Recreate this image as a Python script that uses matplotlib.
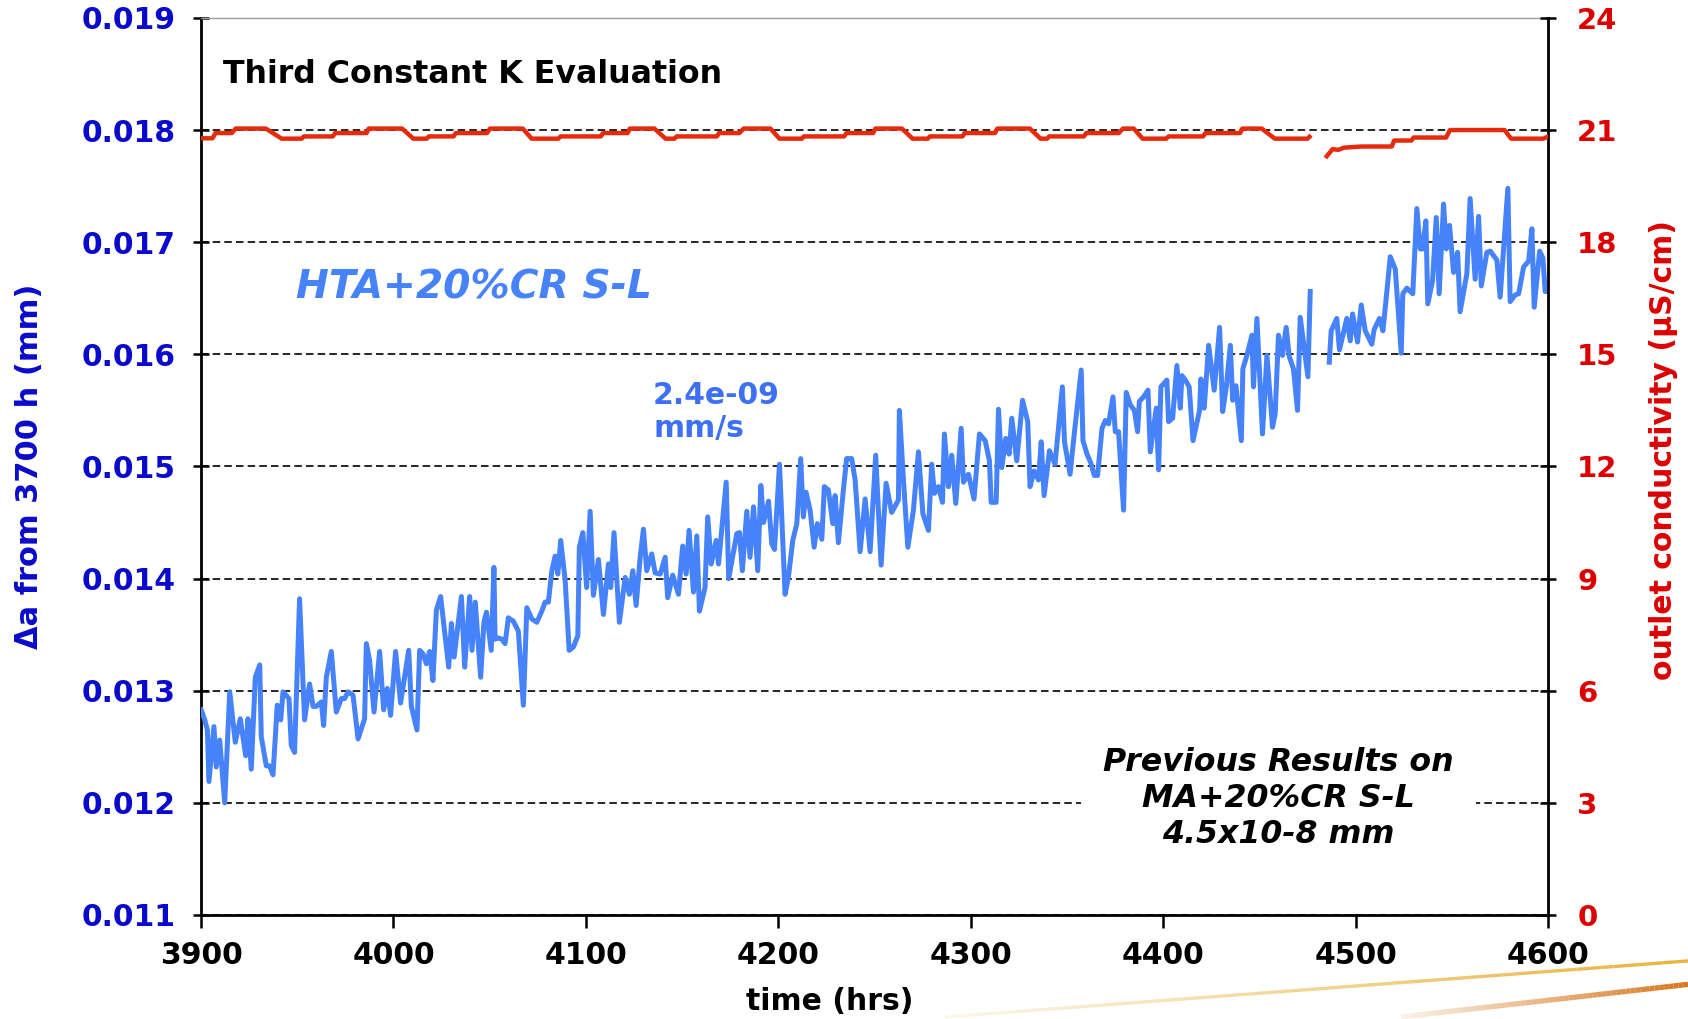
import numpy as np
import matplotlib.pyplot as plt
from matplotlib.collections import LineCollection
from matplotlib.colors import to_rgb

plt.rcParams["font.family"] = ["DejaVu Sans"]
plt.rcParams["font.weight"] = "bold"

# crack extension since 3700 h, time in hrs; nan marks the break in logging
time_hrs = [
    3900.1, 3901.9, 3903.3, 3904.1, 3906.7, 3907.9, 3909.7, 3912.3, 3914.9, 3917.8,
    3920.4, 3923.2, 3924.4, 3926.1, 3928.2, 3930.5, 3931.3, 3933.9, 3935.6, 3937.4,
    3939.6, 3941.4, 3942.6, 3945.7, 3946.9, 3948.6, 3951.2, 3953.8, 3956.4, 3958.2,
    3959.9, 3962.5, 3963.7, 3965.1, 3967.7, 3970.3, 3972.9, 3974.6, 3976.4, 3979.0,
    3981.6, 3985.0, 3985.9, 3987.6, 3989.9, 3992.8, 3994.9, 3996.8, 3998.5, 4001.1,
    4003.7, 4007.9, 4009.3, 4012.2, 4013.6, 4015.3, 4017.1, 4018.8, 4020.5, 4022.3,
    4024.5, 4028.7, 4030.1, 4031.5, 4035.3, 4037.0, 4039.6, 4040.8, 4042.5, 4045.3,
    4047.0, 4048.3, 4050.8, 4052.2, 4052.8, 4054.5, 4056.3, 4058.0, 4059.7, 4062.3,
    4064.9, 4067.5, 4069.3, 4071.9, 4074.5, 4077.1, 4078.8, 4080.5, 4082.3, 4084.0,
    4085.4, 4086.9, 4089.2, 4091.3, 4093.5, 4095.8, 4096.6, 4098.4, 4100.4, 4102.2,
    4103.9, 4106.5, 4109.1, 4111.7, 4112.9, 4114.6, 4117.4, 4120.4, 4122.6, 4124.4,
    4126.1, 4128.2, 4129.9, 4131.6, 4134.2, 4136.0, 4138.6, 4141.2, 4142.5, 4145.1,
    4148.1, 4150.3, 4152.1, 4153.6, 4155.9, 4157.6, 4159.0, 4161.9, 4163.3, 4165.1,
    4167.7, 4168.9, 4172.9, 4174.2, 4178.4, 4179.8, 4181.3, 4183.6, 4185.3, 4187.1,
    4189.3, 4190.9, 4192.3, 4194.9, 4196.6, 4198.0, 4200.6, 4203.5, 4205.2, 4207.5,
    4209.6, 4211.6, 4213.0, 4214.4, 4216.5, 4218.6, 4220.3, 4222.6, 4223.9, 4226.0,
    4228.3, 4229.5, 4231.2, 4233.8, 4235.5, 4238.1, 4239.9, 4242.5, 4245.1, 4247.7,
    4250.6, 4253.4, 4256.0, 4258.9, 4262.4, 4262.9, 4265.0, 4267.3, 4270.2, 4272.8,
    4275.1, 4278.0, 4279.7, 4281.1, 4283.2, 4285.3, 4286.3, 4288.4, 4290.1, 4292.2,
    4295.0, 4296.2, 4298.8, 4301.7, 4304.5, 4307.5, 4309.7, 4310.6, 4313.2, 4314.4,
    4316.1, 4318.2, 4319.9, 4321.3, 4323.9, 4326.9, 4329.6, 4330.8, 4332.9, 4335.2,
    4336.6, 4338.1, 4340.9, 4343.8, 4347.6, 4348.7, 4351.6, 4353.4, 4357.4, 4358.3,
    4360.4, 4362.4, 4364.2, 4365.9, 4368.2, 4369.9, 4371.6, 4373.9, 4375.1, 4376.8,
    4379.4, 4380.8, 4382.9, 4385.0, 4386.7, 4387.6, 4389.8, 4392.1, 4393.3, 4396.4,
    4397.6, 4398.8, 4401.9, 4402.8, 4404.9, 4407.1, 4408.9, 4409.7, 4411.5, 4413.5,
    4415.5, 4418.9, 4419.6, 4421.3, 4423.6, 4426.5, 4429.3, 4430.9, 4432.8, 4434.9,
    4436.1, 4437.8, 4440.6, 4441.4, 4443.5, 4446.1, 4446.9, 4448.7, 4451.6, 4453.9,
    4456.8, 4458.2, 4459.9, 4462.0, 4463.9, 4465.5, 4467.7, 4469.8, 4471.2, 4475.2,
    4476.4, 4481.0, 4486.3, 4487.3, 4490.2, 4491.6, 4495.4, 4497.2, 4498.4, 4501.0,
    4502.9, 4505.0, 4508.4, 4509.6, 4512.4, 4514.2, 4518.0, 4520.6, 4523.7, 4524.5,
    4526.6, 4529.7, 4531.8, 4533.6, 4534.8, 4536.5, 4537.5, 4540.0, 4541.9, 4543.4,
    4545.7, 4547.1, 4548.8, 4550.9, 4553.0, 4554.3, 4557.8, 4559.5, 4562.1, 4563.9,
    4565.3, 4568.2, 4570.0, 4573.4, 4575.1, 4579.1, 4580.3, 4582.9, 4584.7, 4587.3,
    4589.9, 4591.6, 4592.8, 4595.6, 4597.3, 4598.5, 4600.0,
]
delta_a = [
    0.01283, 0.01274, 0.01265, 0.01219, 0.01268, 0.01232, 0.01256, 0.01200, 0.01299, 0.01254,
    0.01275, 0.01242, 0.01275, 0.01230, 0.01312, 0.01323, 0.01259, 0.01233, 0.01233, 0.01225,
    0.01287, 0.01274, 0.01299, 0.01293, 0.01251, 0.01245, 0.01382, 0.01274, 0.01306, 0.01286,
    0.01286, 0.01290, 0.01269, 0.01312, 0.01335, 0.01281, 0.01293, 0.01293, 0.01299, 0.01296,
    0.01257, 0.01275, 0.01342, 0.01327, 0.01281, 0.01335, 0.01283, 0.01302, 0.01278, 0.01335,
    0.01289, 0.01336, 0.01286, 0.01265, 0.01336, 0.01333, 0.01324, 0.01335, 0.01309, 0.01372,
    0.01384, 0.01321, 0.01360, 0.01330, 0.01384, 0.01321, 0.01384, 0.01336, 0.01379, 0.01312,
    0.01361, 0.01370, 0.01336, 0.01410, 0.01346, 0.01347, 0.01346, 0.01342, 0.01365, 0.01362,
    0.01353, 0.01287, 0.01374, 0.01364, 0.01361, 0.01371, 0.01379, 0.01379, 0.01407, 0.01420,
    0.01404, 0.01434, 0.01399, 0.01336, 0.01339, 0.01349, 0.01428, 0.01441, 0.01392, 0.01460,
    0.01385, 0.01417, 0.01368, 0.01413, 0.01392, 0.01441, 0.01361, 0.01401, 0.01386, 0.01407,
    0.01376, 0.01419, 0.01444, 0.01407, 0.01422, 0.01405, 0.01404, 0.01419, 0.01383, 0.01403,
    0.01386, 0.01429, 0.01404, 0.01443, 0.01388, 0.01438, 0.01371, 0.01392, 0.01455, 0.01413,
    0.01434, 0.01413, 0.01486, 0.01400, 0.01440, 0.01441, 0.01407, 0.01460, 0.01419, 0.01464,
    0.01407, 0.01483, 0.01450, 0.01469, 0.01431, 0.01426, 0.01502, 0.01386, 0.01401, 0.01434,
    0.01449, 0.01507, 0.01455, 0.01477, 0.01461, 0.01428, 0.01449, 0.01435, 0.01482, 0.01479,
    0.01449, 0.01474, 0.01432, 0.01479, 0.01507, 0.01507, 0.01488, 0.01424, 0.01471, 0.01424,
    0.01510, 0.01412, 0.01485, 0.01459, 0.01470, 0.01550, 0.01488, 0.01428, 0.01461, 0.01513,
    0.01458, 0.01443, 0.01502, 0.01476, 0.01482, 0.01468, 0.01529, 0.01482, 0.01510, 0.01467,
    0.01534, 0.01486, 0.01493, 0.01471, 0.01529, 0.01523, 0.01505, 0.01468, 0.01468, 0.01551,
    0.01499, 0.01525, 0.01511, 0.01543, 0.01505, 0.01559, 0.01540, 0.01482, 0.01496, 0.01488,
    0.01522, 0.01474, 0.01514, 0.01502, 0.01571, 0.01522, 0.01493, 0.01523, 0.01586, 0.01523,
    0.01511, 0.01503, 0.01492, 0.01492, 0.01534, 0.01541, 0.01538, 0.01562, 0.01531, 0.01531,
    0.01461, 0.01566, 0.01555, 0.01550, 0.01531, 0.01558, 0.01562, 0.01568, 0.01513, 0.01552,
    0.01497, 0.01571, 0.01577, 0.01540, 0.01543, 0.01590, 0.01552, 0.01581, 0.01577, 0.01571,
    0.01523, 0.01550, 0.01578, 0.01552, 0.01608, 0.01568, 0.01624, 0.01549, 0.01571, 0.01608,
    0.01559, 0.01572, 0.01523, 0.01587, 0.01599, 0.01617, 0.01571, 0.01632, 0.01529, 0.01599,
    0.01535, 0.01547, 0.01617, 0.01599, 0.01624, 0.01598, 0.01587, 0.01550, 0.01633, 0.01580,
    0.01656, np.nan, 0.01593, 0.01621, 0.01632, 0.01604, 0.01632, 0.01612, 0.01636, 0.01611,
    0.01644, 0.01621, 0.01609, 0.01622, 0.01632, 0.01621, 0.01687, 0.01676, 0.01601, 0.01654,
    0.01659, 0.01654, 0.01730, 0.01694, 0.01694, 0.01719, 0.01645, 0.01666, 0.01722, 0.01654,
    0.01734, 0.01694, 0.01715, 0.01673, 0.01691, 0.01638, 0.01672, 0.01739, 0.01667, 0.01723,
    0.01661, 0.01691, 0.01692, 0.01684, 0.01651, 0.01748, 0.01647, 0.01653, 0.01654, 0.01678,
    0.01683, 0.01712, 0.01642, 0.01692, 0.01686, 0.01656, 0.01656,
]

# outlet water conductivity (uS/cm)
cond_time = [
    3900.0, 3906.0, 3907.5, 3916.0, 3918.0, 3933.7, 3941.9, 3952.3, 3953.5, 3968.5,
    3969.7, 3986.0, 3987.1, 4004.5, 4010.3, 4017.3, 4018.4, 4031.2, 4032.4, 4048.6,
    4050.2, 4067.2, 4071.8, 4085.7, 4086.9, 4107.8, 4108.9, 4121.7, 4122.8, 4135.6,
    4141.4, 4146.0, 4147.2, 4168.1, 4169.2, 4179.7, 4182.0, 4195.9, 4200.6, 4212.2,
    4213.3, 4234.2, 4235.4, 4249.3, 4250.4, 4264.2, 4269.8, 4277.7, 4278.8, 4295.7,
    4296.8, 4312.6, 4313.8, 4330.7, 4336.3, 4339.7, 4340.8, 4358.8, 4360.0, 4376.9,
    4379.1, 4384.7, 4389.3, 4401.6, 4402.8, 4420.8, 4421.9, 4440.0, 4441.1, 4451.2,
    4458.0, 4475.0, 4476.0, 4480.5, 4485.0, 4488.0, 4491.0, 4494.0, 4503.1, 4518.8,
    4520.0, 4529.0, 4530.1, 4547.0, 4549.0, 4577.4, 4580.8, 4597.7, 4600.0,
]
cond_val = [
    20.78, 20.78, 20.92, 20.92, 21.04, 21.04, 20.77, 20.77, 20.83, 20.83,
    20.92, 20.92, 21.04, 21.04, 20.77, 20.77, 20.83, 20.83, 20.92, 20.92,
    21.04, 21.04, 20.77, 20.77, 20.83, 20.83, 20.92, 20.92, 21.04, 21.04,
    20.77, 20.77, 20.83, 20.83, 20.92, 20.92, 21.04, 21.04, 20.77, 20.77,
    20.83, 20.83, 20.92, 20.92, 21.04, 21.04, 20.77, 20.77, 20.83, 20.83,
    20.92, 20.92, 21.04, 21.04, 20.77, 20.77, 20.83, 20.83, 20.92, 20.92,
    21.04, 21.04, 20.77, 20.77, 20.83, 20.83, 20.92, 20.92, 21.04, 21.04,
    20.77, 20.77, 20.82, np.nan, 20.30, 20.49, 20.47, 20.53, 20.56, 20.56,
    20.72, 20.72, 20.80, 20.80, 21.00, 21.00, 20.77, 20.77, 20.83,
]

x_ticks = [3900, 4000, 4100, 4200, 4300, 4400, 4500, 4600]
y_ticks = [0.011, 0.012, 0.013, 0.014, 0.015, 0.016, 0.017, 0.018, 0.019]
cond_ticks = [0, 3, 6, 9, 12, 15, 18, 21, 24]

blue = "#4682fa"
deep_blue = "#0a0acc"
red = "#e62a0c"
deep_red = "#dd0000"

fig = plt.figure(figsize=(16.88, 10.19), dpi=100)
ax = fig.add_axes([0.1191, 0.1021, 0.798, 0.8803])
ax2 = ax.twinx()

ax.plot(time_hrs, delta_a, color=blue, lw=3.6, solid_joinstyle="round", zorder=3)
ax2.plot(cond_time, cond_val, color=red, lw=3.2, zorder=3)

ax.set_xlim(3900, 4600)
ax.set_ylim(0.011, 0.019)
ax2.set_ylim(0, 24)
ax.set_xticks(x_ticks)
ax.set_yticks(y_ticks)
ax.set_yticklabels([f"{v:.3f}" for v in y_ticks])
ax2.set_yticks(cond_ticks)

# dashed horizontal grid
ax.set_axisbelow(True)
ax.yaxis.grid(True, color="black", lw=1.2, linestyle=(0, (4.5, 2.5)))
ax.xaxis.grid(False)

for side in ["left", "bottom"]:
    ax.spines[side].set_linewidth(2.0)
ax.spines["top"].set_color("#9a9a9a")
ax.spines["top"].set_linewidth(1.0)
ax.spines["right"].set_visible(False)
ax2.spines["right"].set_linewidth(2.0)
for side in ["left", "bottom", "top"]:
    ax2.spines[side].set_visible(False)

ax.tick_params(axis="y", direction="inout", length=12, width=1.8,
               labelsize=21.5, labelcolor=deep_blue, pad=12.5)
ax.tick_params(axis="x", direction="out", length=9, width=1.8,
               labelsize=21.5, pad=9.5)
ax2.tick_params(axis="y", direction="inout", length=12, width=1.8,
                labelsize=21, labelcolor=deep_red, pad=15)

ax.set_xlabel("time (hrs)", fontsize=21.5, fontweight="bold")
ax.xaxis.set_label_coords(0.467, -0.096)
ax.xaxis.label.set_va("center")
ax.set_ylabel("\u0394a from 3700 h (mm)", fontsize=22, fontweight="bold",
              color=deep_blue)
ax.yaxis.set_label_coords(-0.127, 0.5)
ax.yaxis.label.set_va("center")
ax2.set_ylabel("outlet conductivity (\u00b5S/cm)", fontsize=21.5, fontweight="bold",
               color=deep_red, rotation=90)
ax2.yaxis.set_label_coords(1.0854, 0.518)
ax2.yaxis.label.set_va("center")

ax.text(0.0163, 0.937, "Third Constant K Evaluation", transform=ax.transAxes,
        fontsize=22.8, fontweight="bold", va="center", ha="left")
ax.text(0.0705, 0.70, "HTA+20%CR S-L", transform=ax.transAxes, fontsize=28.3,
        fontweight="bold", fontstyle="italic", color=blue, va="center", ha="left")
ax.text(0.3356, 0.561, "2.4e-09\nmm/s", transform=ax.transAxes, fontsize=21.5,
        fontweight="bold", color="#3d70f5", va="center", ha="left", linespacing=1.18)
ax.text(0.7996, 0.130, "Previous Results on\nMA+20%CR S-L\n4.5x10-8 mm",
        transform=ax.transAxes, fontsize=22.8, fontweight="bold", fontstyle="italic",
        va="center", ha="center", linespacing=1.2, zorder=4,
        bbox=dict(facecolor="white", edgecolor="none", pad=16))

# slide swooshes along the lower right edge
def swoosh(x0, y0, x1, y1, color, lw):
    n = 60
    xs = np.linspace(x0, x1, n + 1)
    ys = np.linspace(y0, y1, n + 1)
    segs = [[(xs[i], ys[i]), (xs[i + 1], ys[i + 1])] for i in range(n)]
    alphas = np.linspace(0.1, 1.0, n)
    cols = [(*to_rgb(color), a) for a in alphas]
    fig.add_artist(LineCollection(segs, colors=cols, linewidths=lw,
                                  transform=fig.transFigure))

swoosh(0.56, 0.002, 1.0, 0.057, "#e8b23c", 2.4)
swoosh(0.83, 0.002, 1.0, 0.034, "#d7781e", 3.8)

fig.savefig("out.png", dpi=100)
